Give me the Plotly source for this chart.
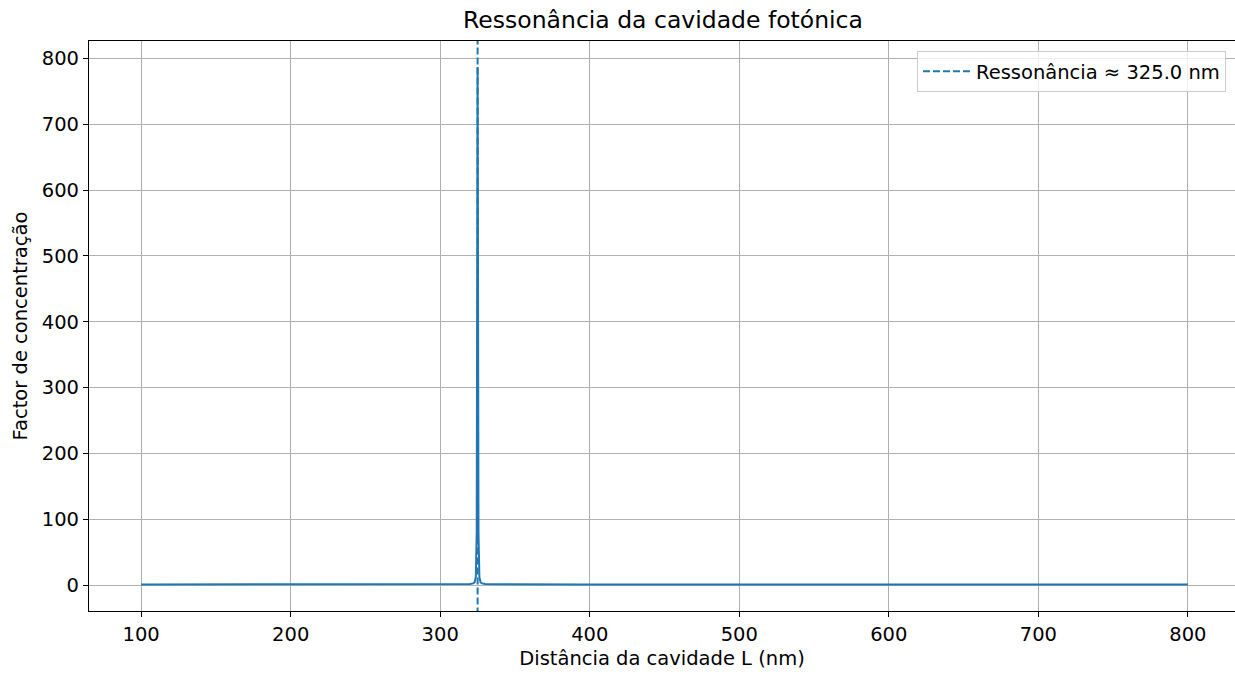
import plotly.graph_objects as go

# Data
L_nm = [100, 200, 300, 320, 322, 323, 323.8, 324.4, 325.0, 325.6, 326.2, 327, 328, 330, 400, 500, 600, 700, 800]
factor = [1.0, 1.0, 1.0, 1.5, 2.5, 4.0, 12.0, 80.0, 787.0, 80.0, 12.0, 4.0, 2.5, 1.5, 1.0, 1.0, 1.0, 1.0, 1.0]
resonance_nm = 325.0

x_ticks = [100, 200, 300, 400, 500, 600, 700, 800]
y_ticks = [0, 100, 200, 300, 400, 500, 600, 700, 800]

BLUE = "#1f77b4"
FONT = "DejaVu Sans"
TXT = "#000000"
FS = 19.5

fig = go.Figure()
fig.add_trace(go.Scatter(
    x=L_nm, y=factor, mode="lines",
    line=dict(color=BLUE, width=2),
    showlegend=False, hoverinfo="x+y",
))
fig.add_trace(go.Scatter(
    x=[resonance_nm, resonance_nm], y=[-60, 900], mode="lines",
    line=dict(color=BLUE, width=2, dash="7px,3px"),
    name=f"Ressonância ≈ {resonance_nm:.1f} nm", showlegend=True,
))

fig.update_layout(
    width=1235, height=675,
    margin=dict(l=89, r=0, t=41, b=64, autoexpand=False),
    paper_bgcolor="white", plot_bgcolor="white",
    font=dict(family=FONT, size=FS, color=TXT),
    title=dict(text="Ressonância da cavidade fotónica", x=(89 + 1237) / 2 / 1235, xanchor="center",
               y=1 - 20 / 675, yanchor="middle", font=dict(size=23.5, color=TXT)),
    xaxis=dict(
        range=[65.13, 831.5], tickvals=x_ticks, ticktext=[str(v) for v in x_ticks],
        showgrid=True, gridcolor="#b0b0b0", gridwidth=1,
        showline=True, linecolor="#000000", linewidth=1.2, mirror=True,
        ticks="outside", ticklen=5, tickcolor="#000000", tickwidth=1.1,
        zeroline=False, automargin=False,
        title=dict(text="Distância da cavidade L (nm)", standoff=6, font=dict(size=FS)),
        tickfont=dict(size=FS),
    ),
    yaxis=dict(
        range=[-39.4, 826.6], tickvals=y_ticks, ticktext=[str(v) for v in y_ticks],
        showgrid=True, gridcolor="#b0b0b0", gridwidth=1,
        showline=True, linecolor="#000000", linewidth=1.2, mirror=True,
        ticks="outside", ticklen=5, tickcolor="#000000", tickwidth=1.1,
        zeroline=False, automargin=False,
        title=dict(text="Factor de concentração", standoff=8, font=dict(size=FS)),
        tickfont=dict(size=FS),
    ),
    legend=dict(
        x=(1226 - 89) / 1146, y=(610 - 50) / 570, xanchor="right", yanchor="top",
        bgcolor="rgba(255,255,255,0.8)", bordercolor="#cccccc", borderwidth=1,
        font=dict(size=FS), itemwidth=48,
    ),
)

fig.write_html("out.html", config={"displayModeBar": False},
               post_script="document.body.style.margin='0';document.body.style.padding='0';")
